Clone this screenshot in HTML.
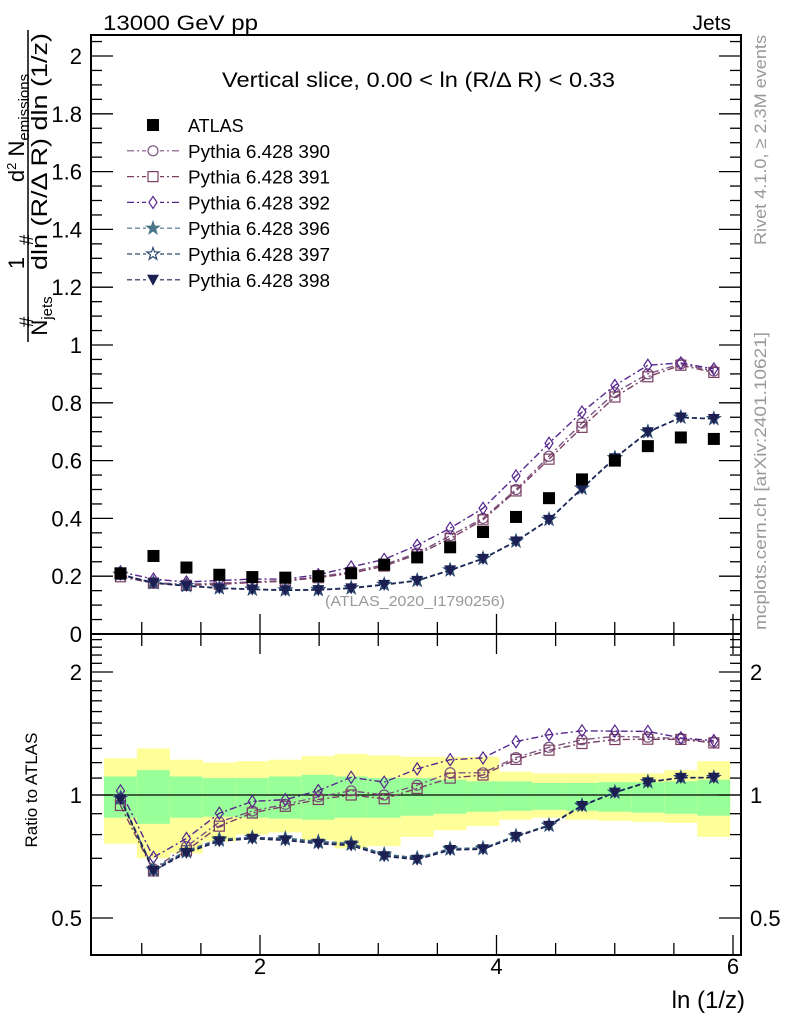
<!DOCTYPE html>
<html><head><meta charset="utf-8"><style>
html,body{margin:0;padding:0;background:#fff;}
svg{display:block;font-family:"Liberation Sans",sans-serif;}
</style></head><body>
<svg id="chart" width="786" height="1024" viewBox="0 0 786 1024" xmlns="http://www.w3.org/2000/svg">
<g id="bands"></g>
<g id="marks"></g>
<g id="axes"></g>
<text x="103" y="30" font-size="21" textLength="155" lengthAdjust="spacingAndGlyphs">13000 GeV pp</text>
<text x="731" y="30" font-size="21" text-anchor="end">Jets</text>
<text x="222" y="87" font-size="21" textLength="393" lengthAdjust="spacingAndGlyphs">Vertical slice, 0.00 &lt; ln (R/Δ R) &lt; 0.33</text>
<text x="325" y="606" font-size="15" fill="#999" textLength="180" lengthAdjust="spacingAndGlyphs">(ATLAS_2020_I1790256)</text>
<text transform="translate(766,245) rotate(-90)" font-size="17" fill="#999" textLength="210" lengthAdjust="spacingAndGlyphs">Rivet 4.1.0, ≥ 2.3M events</text>
<text transform="translate(766,630) rotate(-90)" font-size="17" fill="#999" textLength="298" lengthAdjust="spacingAndGlyphs">mcplots.cern.ch [arXiv:2401.10621]</text>
<g font-size="22">
<text transform="translate(24,128) rotate(-90)" text-anchor="middle">d<tspan font-size="13" dy="-8">2</tspan><tspan dy="8"> N</tspan><tspan font-size="15" dy="5">emissions</tspan></text>
<line x1="28" y1="30" x2="28" y2="342" stroke="#000" stroke-width="1.5"/>
<text transform="translate(47,270) rotate(-90)" textLength="237" lengthAdjust="spacingAndGlyphs">dln (R/Δ R) dln (1/z)</text>
<text transform="translate(24,263) rotate(-90)" text-anchor="middle">1</text>
<text transform="translate(33,240) rotate(-90)" text-anchor="middle" font-size="19">#</text>
<text transform="translate(33,322) rotate(-90)" text-anchor="middle" font-size="19">#</text>
<text transform="translate(47,316) rotate(-90)" text-anchor="middle">N<tspan font-size="15" dy="5">jets</tspan></text>
</g>
<text transform="translate(37,790) rotate(-90)" font-size="17" text-anchor="middle">Ratio to ATLAS</text>
<text x="745" y="1008" font-size="24" text-anchor="end">ln (1/z)</text>
<g id="legend"></g>
</svg>
<script>
const xCenters = [0.82,1.099,1.378,1.656,1.935,2.214,2.493,2.771,3.05,3.329,3.608,3.886,4.165,4.444,4.723,5.001,5.28,5.559,5.838];
const binEdges = [0.68,0.959,1.238,1.516,1.795,2.074,2.353,2.631,2.91,3.189,3.468,3.746,4.025,4.304,4.583,4.861,5.14,5.419,5.698,5.976];
const atlas = [0.21,0.27,0.23,0.205,0.197,0.195,0.2,0.21,0.24,0.265,0.3,0.353,0.405,0.47,0.535,0.6,0.65,0.68,0.675];
const p390 = [0.205,0.178,0.172,0.176,0.18,0.185,0.198,0.215,0.24,0.28,0.34,0.4,0.5,0.615,0.73,0.835,0.9,0.935,0.91];
const p391 = [0.198,0.176,0.168,0.172,0.178,0.183,0.195,0.21,0.235,0.275,0.33,0.395,0.495,0.605,0.715,0.82,0.89,0.93,0.905];
const p392 = [0.215,0.19,0.18,0.185,0.19,0.19,0.205,0.232,0.258,0.307,0.366,0.435,0.547,0.66,0.768,0.86,0.93,0.938,0.917];
const p396 = [0.207,0.178,0.168,0.16,0.155,0.153,0.154,0.16,0.172,0.186,0.222,0.262,0.322,0.397,0.505,0.61,0.70,0.75,0.745];
const p397 = [0.206,0.177,0.167,0.159,0.155,0.152,0.153,0.159,0.171,0.185,0.221,0.261,0.321,0.396,0.504,0.609,0.70,0.75,0.745];
const p398 = [0.205,0.176,0.166,0.158,0.154,0.151,0.152,0.158,0.17,0.184,0.22,0.26,0.32,0.395,0.503,0.608,0.698,0.749,0.744];
const yellowHi = [1.23,1.30,1.22,1.20,1.21,1.22,1.245,1.26,1.25,1.24,1.24,1.24,1.14,1.13,1.13,1.13,1.13,1.15,1.21];
const yellowLo = [0.76,0.70,0.72,0.77,0.80,0.81,0.775,0.74,0.75,0.79,0.82,0.84,0.87,0.88,0.87,0.865,0.86,0.855,0.79];
const greenHi = [1.11,1.15,1.11,1.10,1.10,1.11,1.12,1.11,1.10,1.10,1.09,1.08,1.08,1.07,1.07,1.075,1.075,1.08,1.09];
const greenLo = [0.88,0.85,0.88,0.885,0.88,0.875,0.87,0.88,0.88,0.89,0.90,0.91,0.915,0.92,0.915,0.91,0.905,0.90,0.89];
const mainTicks = ["0","0.2","0.4","0.6","0.8","1","1.2","1.4","1.6","1.8","2"];
const xTickLabels = ["2","4","6"];

const NS="http://www.w3.org/2000/svg";
const L=91,Rt=741,MT=35,MB=634,RB=955;
const X=v=>23.5+118.25*v;
const Y=v=>634-289*v;
const RY=r=>795-177.5*Math.log(r);
function mk(tag,attrs,parent){const e=document.createElementNS(NS,tag);for(const k in attrs)e.setAttribute(k,attrs[k]);parent.appendChild(e);return e;}
const bands=document.getElementById('bands'),marks=document.getElementById('marks'),axes=document.getElementById('axes'),legend=document.getElementById('legend');

for(let i=0;i<binEdges.length-1;i++){
  const x0=X(binEdges[i]),x1=X(binEdges[i+1]);
  let r=mk('rect',{x:x0,y:RY(yellowHi[i]),width:x1-x0,height:RY(yellowLo[i])-RY(yellowHi[i]),fill:'#ffff99'},bands);
  
  
  let g=mk('rect',{x:x0,y:RY(greenHi[i]),width:x1-x0,height:RY(greenLo[i])-RY(greenHi[i]),fill:'#99ff99'},bands);
  
  
}
let ref=mk('line',{x1:L,x2:Rt,y1:RY(1),y2:RY(1),stroke:'#000','stroke-width':1.3},bands);



function marker(type,cx,cy,color,parent){
  const s=5;let e;
  if(type==='circle')e=mk('circle',{cx,cy,r:s,fill:'none',stroke:color,'stroke-width':1.2},parent);
  else if(type==='square')e=mk('rect',{x:cx-s,y:cy-s,width:2*s,height:2*s,fill:'none',stroke:color,'stroke-width':1.2},parent);
  else if(type==='diamond')e=mk('polygon',{points:`${cx},${cy-6} ${cx+4},${cy} ${cx},${cy+6} ${cx-4},${cy}`,fill:'none',stroke:color,'stroke-width':1.2},parent);
  else if(type==='star'||type==='ostar'){let p=[];for(let k=0;k<10;k++){const a=-Math.PI/2+k*Math.PI/5,rr=k%2?2.6:6.5;p.push((cx+rr*Math.cos(a)).toFixed(1)+','+(cy+rr*Math.sin(a)).toFixed(1));}
    e=mk('polygon',{points:p.join(' '),fill:type==='star'?color:'none',stroke:color,'stroke-width':1.2},parent);}
  else if(type==='tri')e=mk('polygon',{points:`${cx-6},${cy-5} ${cx+6},${cy-5} ${cx},${cy+6}`,fill:color},parent);
  else if(type==='fsquare')e=mk('rect',{x:cx-6,y:cy-6,width:12,height:12,fill:color},parent);
  return e;
}
const series=[
 {name:'Pythia 6.428 390',d:p390,c:'#7c5482',m:'circle',dash:'7,3,2,3'},
 {name:'Pythia 6.428 391',d:p391,c:'#7a3e62',m:'square',dash:'7,3,2,3'},
 {name:'Pythia 6.428 392',d:p392,c:'#55268c',m:'diamond',dash:'7,3,2,3'},
 {name:'Pythia 6.428 396',d:p396,c:'#4a7488',m:'star',dash:'5,3'},
 {name:'Pythia 6.428 397',d:p397,c:'#2e4a72',m:'ostar',dash:'5,3'},
 {name:'Pythia 6.428 398',d:p398,c:'#1c1f52',m:'tri',dash:'5,3'}];

series.forEach(s=>{
  const pts=s.d.map((v,i)=>X(xCenters[i])+','+Y(v)).join(' ');
  let pl=mk('polyline',{points:pts,fill:'none',stroke:s.c,'stroke-width':1.4,'stroke-dasharray':s.dash},marks);
  
  
  const rp=s.d.map((v,i)=>X(xCenters[i])+','+RY(v/atlas[i])).join(' ');
  let rl=mk('polyline',{points:rp,fill:'none',stroke:s.c,'stroke-width':1.4,'stroke-dasharray':s.dash},marks);
  
  
  s.d.forEach((v,i)=>{
    let e=marker(s.m,X(xCenters[i]),Y(v),s.c,marks);
    
    
    let f=marker(s.m,X(xCenters[i]),RY(v/atlas[i]),s.c,marks);
    
    
  });
});
atlas.forEach((v,i)=>{
  let e=marker('fsquare',X(xCenters[i]),Y(v),'#000',marks);
  
  
});

let f1=mk('rect',{x:L,y:MT,width:Rt-L,height:MB-MT,fill:'none',stroke:'#000','stroke-width':2},axes);


let f2=mk('rect',{x:L,y:MB,width:Rt-L,height:RB-MB,fill:'none',stroke:'#000','stroke-width':2},axes);


function tk(x1,y1,x2,y2){mk('line',{x1,y1,x2,y2,stroke:'#000','stroke-width':1.3},axes);}
for(let k=0;k<=41;k++){const v=k*0.05,y=Y(v);if(y<MT)break;const len=k%4===0?22:11;tk(L,y,L+len,y);tk(Rt,y,Rt-len,y);}
mainTicks.forEach((t,i)=>{let e=mk('text',{x:82,y:Y(i*0.2)+8,'font-size':22,'text-anchor':'end'},axes);e.textContent=t;
  
  });
for(let k=2;k<=12;k++){const v=k*0.5,x=X(v);const len=(k%4===0)?20:12;
  tk(x,MB,x,MB-len);tk(x,MB,x,MB+len);tk(x,RB,x,RB-len);}
xTickLabels.forEach(t=>{let e=mk('text',{x:X(+t),y:974,'font-size':22,'text-anchor':'middle'},axes);e.textContent=t;
  
  });
const rts=[0.5,0.6,0.7,0.8,0.9,1,1.1,1.2,1.3,1.4,1.5,1.6,1.7,1.8,1.9,2,2.1,2.2,2.3,2.4];
rts.forEach(r=>{const y=RY(r);const len=(r===0.5||r===1||r===2)?22:11;tk(L,y,L+len,y);tk(Rt,y,Rt-len,y);});
[["0.5",0.5],["1",1],["2",2]].forEach(([t,r])=>{
  let e=mk('text',{x:82,y:RY(r)+8,'font-size':22,'text-anchor':'end'},axes);e.textContent=t;
  
  
  let e2=mk('text',{x:750,y:RY(r)+8,'font-size':22},axes);e2.textContent=t;
  
  });

const ly0=125,ldy=25.8;
let a=marker('fsquare',153,ly0,'#000',legend);


let at=mk('text',{x:188,y:ly0+7,'font-size':18},legend);at.textContent='ATLAS';


series.forEach((s,i)=>{const y=ly0+ldy*(i+1);
  let ln=mk('line',{x1:127,x2:180,y1:y,y2:y,stroke:s.c,'stroke-width':1.2,'stroke-dasharray':s.dash},legend);
  
  
  mk('rect',{x:146,y:y-7,width:14,height:14,fill:'#fff'},legend);
  let m=marker(s.m,153,y,s.c,legend);
  
  
  let t=mk('text',{x:188,y:y+7,'font-size':18,textLength:142,lengthAdjust:'spacingAndGlyphs'},legend);t.textContent=s.name;
  
  
});
</script>
</body></html>
